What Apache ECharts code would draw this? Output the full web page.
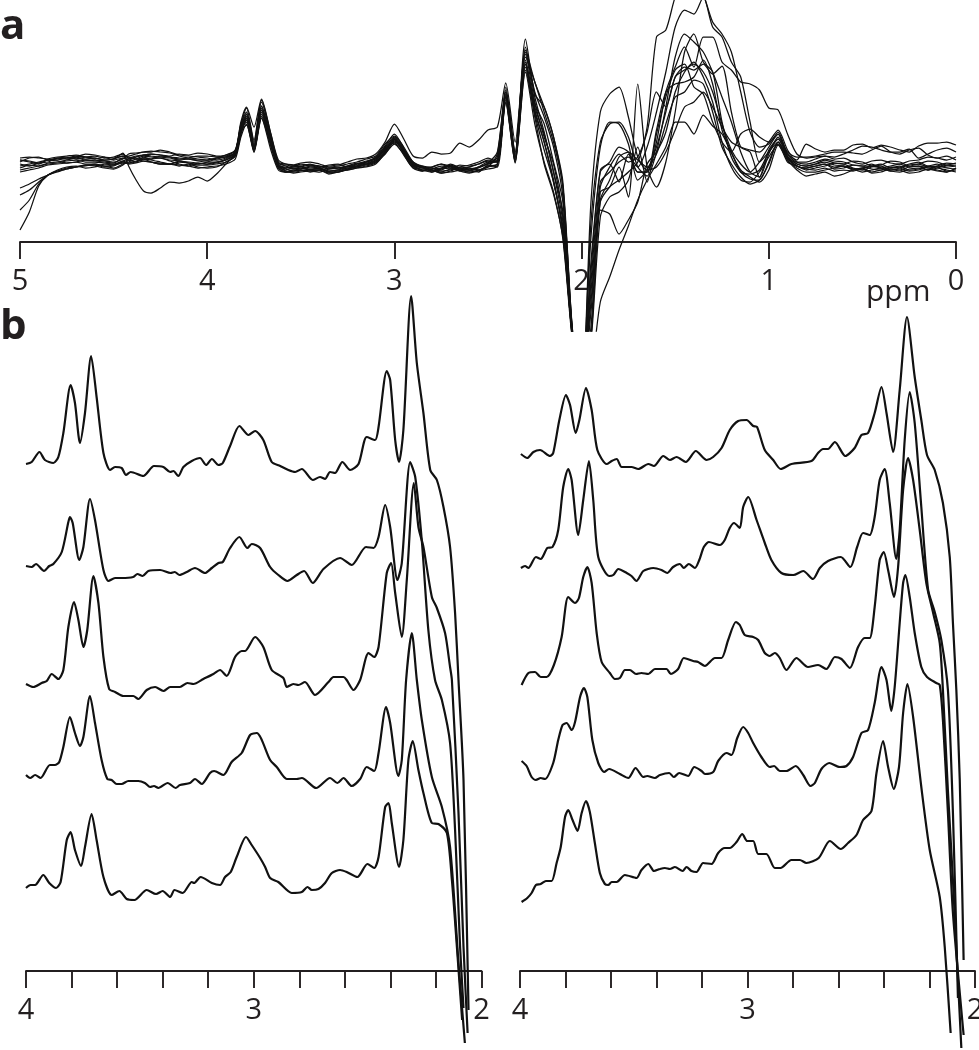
<!DOCTYPE html>
<html>
<head>
<meta charset="utf-8">
<style>html,body{margin:0;padding:0;background:#fff}#chart{width:979px;height:1050px}</style>
<script src="https://cdn.jsdelivr.net/npm/echarts@6/dist/echarts.min.js"></script>
</head>
<body>
<div id="chart"></div>
<script>
// panel a: all spectra share one ppm grid, values are signal height above the axis
const ppmA = [5,4.95,4.9,4.85,4.8,4.75,4.7,4.65,4.6,4.55,4.5,4.45,4.42,4.38,4.34,4.3,4.25,4.2,4.15,4.1,4.05,4,3.95,
  3.9,3.85,3.82,3.79,3.75,3.71,3.66,3.62,3.58,
  3.54,3.5,3.45,3.4,3.35,3.3,3.25,3.2,3.15,3.1,3.05,3,2.95,2.9,2.85,2.8,2.75,2.7,2.65,2.6,2.55,2.5,
  2.45,2.405,2.355,2.3,2.25, 2.2,2.15,2.1,2.05,2, 1.95,1.9,1.85,1.8,1.75, 1.7,1.65,1.6,1.55,1.5, 1.45,1.4,1.35,1.3,1.25, 1.2,1.15,1.1,1.05,1, 0.95,0.9,0.85,0.8,
  0.75,0.7,0.65,0.6,0.55,0.5,0.45,0.4,0.35,0.3,0.25,0.2,0.15,0.1,0.05,0];
const a0 = [12,30,56,67,71,74,75,77,77,75,76,80,78,79,81,80,79,78,80,79,77,77,78,
  80,86,108,128,98,136,100,76,72,
  74,73,75,74,71,72,75,76,78,80,90,104,92,80,75,74,72,77,74,72,75,78,
  82,148,82,175,132, 100,60,15,-95,-150, -130,-60,-35,-8,16, 42,62,78,95,120, 120,108,127,116,108, 89,72,65,60,72, 97,82,72,66,
  68,70,66,68,72,74,70,72,74,76,72,73,76,75,71,72];
const a1 = [32,42,58,67,72,75,76,74,75,78,77,81,79,80,83,82,80,78,77,76,79,78,79,
  82,87,112,122,95,130,96,74,70,
  71,72,70,72,74,75,73,78,80,84,92,101,90,76,72,70,73,74,71,73,75,80,
  80,145,85,180,138, 118,80,40,-88,-150, 40,130,148,155,125, 85,72,75,90,112, 135,140,150,135,115, 100,95,92,90,100, 112,92,80,78,
  80,83,81,80,77,76,78,74,76,78,75,76,72,74,77,76];
const a2 = [47,52,60,67,70,73,75,77,76,74,73,77,82,80,85,83,84,81,78,76,74,75,76,
  78,83,105,118,90,124,92,72,70,
  70,71,73,73,70,71,74,75,78,82,94,103,88,74,73,72,69,70,72,74,72,76,
  78,140,80,178,130, 100,62,10,-92,-150, -85,50,55,75,45, 158,75,55,80,130, 190,208,180,170,120, 85,70,63,62,80, 100,84,76,74,
  76,78,75,76,73,70,72,74,71,72,75,76,74,72,70,74];
const a3 = [54,58,63,67,71,73,75,76,78,76,74,78,80,83,86,85,84,82,81,80,79,78,80,
  82,88,115,126,92,132,102,76,73,
  71,72,71,70,73,74,76,79,78,81,88,100,92,78,71,75,78,76,73,72,74,79,
  90,152,88,190,150, 125,95,45,-90,-150, -60,40,55,62,70, 80,115,205,212,245, 262,265,248,220,208, 190,150,110,95,98, 110,88,80,80,
  83,86,85,88,92,96,95,92,90,90,93,84,88,92,94,90];
const a4 = [84,85,84,83,82,84,86,85,84,82,83,86,85,83,84,83,86,85,83,84,86,86,85,
  87,92,118,130,100,140,106,79,76,
  74,75,77,76,74,73,76,77,80,85,96,108,94,77,74,73,74,76,72,71,75,78,
  85,150,90,195,145, 110,70,30,-88,-150, -40,60,70,80,85, 75,95,130,170,215, 232,228,245,215,205, 180,165,120,80,90, 100,85,78,76,
  78,80,77,76,73,74,76,78,74,75,78,80,76,78,75,76];
const a5 = [82,80,78,83,85,86,87,85,83,85,84,86,86,88,90,90,92,90,87,86,85,84,82,
  84,90,117,134,102,142,108,82,78,
  77,79,80,78,75,76,78,80,83,86,98,106,95,80,76,75,78,74,77,76,78,82,
  82,155,85,203,148, 135,105,60,-85,-150, 20,100,118,120,105, 75,66,90,135,185, 208,200,190,170,145, 120,90,70,65,88, 105,90,85,85,
  86,88,90,90,89,88,92,96,90,88,92,94,87,84,86,82];
const a6 = [80,84,85,82,84,85,83,85,86,84,85,88,84,86,87,86,85,84,82,83,81,80,80,
  83,89,114,124,94,134,100,76,75,
  73,74,72,72,69,70,73,75,77,80,91,103,90,76,72,72,70,73,72,70,72,75,
  88,150,90,192,160, 135,105,55,-87,-150, -20,70,80,95,90, 70,70,100,150,175, 195,175,205,205,180, 172,160,158,152,134, 132,108,88,84,
  85,86,83,84,80,78,81,82,79,78,81,82,85,84,82,85];
const a7 = [76,78,80,82,81,79,80,82,81,80,79,84,84,83,81,80,78,78,81,79,78,80,83,
  85,90,120,135,115,143,108,80,78,
  77,76,78,75,76,77,80,83,84,88,100,118,103,86,84,90,88,89,99,95,102,112,
  115,159,100,185,160, 130,100,55,-86,-150, -50,55,75,88,80, 85,110,150,135,165, 175,172,178,168,176, 130,95,90,65,92, 103,88,82,98,
  93,90,92,92,97,98,94,97,95,92,90,96,99,99,100,97];
const a8 = [78,76,79,80,84,83,85,88,87,85,82,84,82,85,87,88,87,86,88,87,89,88,86,
  86,92,112,120,92,126,98,78,74,
  75,76,72,74,71,72,72,74,76,79,88,98,88,78,74,72,69,71,75,74,72,75,
  78,145,82,188,140, 105,78,25,-90,-150, 5,95,120,118,98, 62,72,95,130,165, 172,178,170,150,118, 92,78,70,80,95, 108,85,76,74,
  76,78,73,74,77,76,73,72,75,74,71,72,75,76,74,73];
const a9 = [74,77,76,79,80,82,84,82,82,81,80,83,88,89,90,91,90,89,86,84,83,82,84,
  85,88,110,117,92,124,96,74,70,
  72,73,76,75,77,78,75,76,80,83,93,99,87,75,76,70,73,78,74,72,70,77,
  75,142,80,172,125, 78,48,5,-93,-150, -70,32,28,8,22, 40,78,90,110,150, 170,180,165,140,100, 75,62,60,70,85, 98,80,76,72,
  74,76,79,78,74,72,75,76,72,74,77,78,75,74,72,70];
const a10 = [72,74,76,78,79,81,82,80,80,79,78,81,83,85,87,88,87,85,84,83,82,82,84,
  87,91,116,128,96,136,104,79,77,
  76,78,77,76,73,74,76,78,81,84,95,105,93,79,75,74,71,72,75,77,80,84,
  80,147,85,182,135, 108,70,20,-91,-150, -30,72,78,60,88, 70,70,112,150,158, 160,165,182,158,112, 90,70,68,72,90, 103,86,78,76,
  78,82,79,78,81,80,76,77,81,80,76,78,81,80,77,79];
const a11 = [70,72,74,77,78,79,80,78,78,76,77,79,79,81,83,80,78,78,76,78,75,74,75,
  80,86,108,122,90,128,100,75,71,
  69,70,71,72,68,70,72,74,75,78,89,102,90,74,71,73,76,75,71,69,71,73,
  76,139,79,170,118, 80,50,3,-97,-150, -100,25,45,50,62, 95,60,108,145,172, 178,155,148,120,100, 90,108,113,105,100, 108,84,76,73,
  72,74,71,72,71,73,69,70,73,72,69,70,73,71,70,74];
const a12 = [82,81,79,82,83,84,85,83,84,82,83,89,76,62,51,49,54,60,59,61,65,61,68,
  78,88,112,124,96,132,100,77,74,
  76,75,73,74,70,70,73,76,79,82,92,103,91,78,75,71,74,76,73,75,78,81,
  80,146,84,178,128, 92,60,10,-94,-150, -95,42,62,85,90, 82,75,88,118,145, 150,162,158,130,95, 78,65,58,62,78, 100,82,74,70,
  70,72,74,76,72,74,76,74,71,70,73,74,72,76,79,78];

// panel b, left column, [ppm, height]
const left1 = [[4,507],[3.975,509],[3.941,519],[3.917,511],[3.88,508],[3.858,514],[3.836,538],[3.804,586],[3.785,568],[3.763,528],[3.741,558],[3.714,615],[3.69,574],[3.66,518],[3.631,501],[3.609,504],[3.58,503],[3.561,496],[3.54,499],[3.485,495],[3.438,505],[3.397,504],[3.367,499],[3.353,500],[3.331,495],[3.309,504],[3.272,510],[3.236,513],[3.209,506],[3.184,512],[3.155,506],[3.136,508],[3.104,525],[3.063,545],[3.023,536],[2.994,540],[2.958,531],[2.921,509],[2.884,505],[2.848,501],[2.818,499],[2.789,502],[2.741,491],[2.709,494],[2.687,492],[2.665,499],[2.643,498],[2.611,509],[2.577,501],[2.54,507],[2.504,534],[2.467,531],[2.452,544],[2.416,600],[2.401,591],[2.379,531],[2.362,509],[2.343,541],[2.309,675],[2.284,608],[2.255,558],[2.225,501],[2.196,491],[2.167,464],[2.138,424],[2.116,358],[2.101,291],[2.079,191],[2.057,-39]];
const left2 = [[4,405],[3.975,404],[3.956,407],[3.921,400],[3.898,405],[3.88,407],[3.843,419],[3.814,449],[3.807,454],[3.795,448],[3.766,411],[3.748,424],[3.719,472],[3.697,451],[3.66,401],[3.638,390],[3.609,393],[3.58,393],[3.529,394],[3.511,397],[3.488,395],[3.463,400],[3.411,401],[3.365,398],[3.347,399],[3.326,396],[3.294,399],[3.258,403],[3.214,398],[3.184,403],[3.155,408],[3.136,409],[3.104,423],[3.063,434],[3.028,423],[3.009,427],[2.972,423],[2.928,404],[2.892,396],[2.852,390],[2.811,396],[2.779,400],[2.741,388],[2.694,402],[2.621,413],[2.57,406],[2.507,424],[2.474,423],[2.452,434],[2.423,466],[2.401,444],[2.369,391],[2.35,408],[2.313,509],[2.291,494],[2.262,430],[2.233,340],[2.204,291],[2.174,271],[2.138,228],[2.116,141],[2.094,24],[2.079,-37]];
const left3 = [[4,287],[3.968,284],[3.931,288],[3.909,290],[3.887,297],[3.858,292],[3.836,301],[3.814,344],[3.789,369],[3.77,351],[3.748,324],[3.731,341],[3.704,395],[3.682,368],[3.66,314],[3.635,282],[3.609,279],[3.572,275],[3.529,275],[3.507,272],[3.47,281],[3.433,284],[3.397,280],[3.367,284],[3.324,284],[3.291,288],[3.265,287],[3.221,292],[3.177,297],[3.148,301],[3.119,295],[3.082,314],[3.053,320],[3.038,320],[2.994,334],[2.958,324],[2.921,301],[2.87,293],[2.855,284],[2.826,287],[2.804,286],[2.775,289],[2.731,276],[2.672,289],[2.65,294],[2.606,294],[2.592,291],[2.562,281],[2.533,291],[2.496,318],[2.471,314],[2.452,324],[2.416,398],[2.397,408],[2.379,378],[2.35,334],[2.328,391],[2.297,488],[2.277,444],[2.255,424],[2.218,374],[2.196,363],[2.16,338],[2.138,304],[2.13,291],[2.101,158],[2.079,24],[2.061,-62]];
const left4 = [[4,196],[3.982,193],[3.96,196],[3.936,193],[3.895,206],[3.873,206],[3.854,209],[3.836,224],[3.807,254],[3.785,238],[3.763,225],[3.748,234],[3.719,275],[3.697,248],[3.668,211],[3.643,192],[3.624,191],[3.602,187],[3.58,187],[3.551,190],[3.507,190],[3.478,188],[3.455,184],[3.438,185],[3.419,183],[3.378,188],[3.343,183],[3.324,186],[3.28,188],[3.258,192],[3.228,187],[3.192,198],[3.174,200],[3.133,196],[3.097,209],[3.053,218],[3.016,236],[2.987,238],[2.928,211],[2.899,204],[2.855,192],[2.811,192],[2.789,193],[2.726,183],[2.665,193],[2.633,188],[2.606,193],[2.57,185],[2.533,192],[2.504,204],[2.471,200],[2.452,218],[2.419,264],[2.401,248],[2.365,195],[2.35,211],[2.331,291],[2.306,338],[2.284,291],[2.262,251],[2.218,194],[2.174,164],[2.138,124],[2.101,8],[2.073,-72]];
const left5 = [[4,83],[3.98,86],[3.96,86],[3.924,96],[3.898,88],[3.868,83],[3.848,89],[3.821,131],[3.804,139],[3.785,121],[3.758,105],[3.741,124],[3.712,157],[3.69,131],[3.66,94],[3.624,76],[3.59,80],[3.558,72],[3.524,71],[3.47,81],[3.429,77],[3.4,80],[3.367,74],[3.348,81],[3.312,78],[3.272,89],[3.262,88],[3.233,94],[3.184,88],[3.148,86],[3.126,94],[3.101,99],[3.075,114],[3.034,134],[3.009,126],[2.972,113],[2.95,104],[2.928,93],[2.892,89],[2.833,78],[2.789,79],[2.764,84],[2.745,81],[2.716,82],[2.687,88],[2.657,98],[2.621,101],[2.592,99],[2.545,94],[2.501,107],[2.471,103],[2.452,114],[2.423,164],[2.408,168],[2.394,148],[2.362,104],[2.343,131],[2.321,211],[2.302,230],[2.277,201],[2.255,178],[2.218,148],[2.189,147],[2.152,138],[2.13,91],[2.108,24],[2.085,-49]];

// panel b, right column
const right1 = [[3.996,517],[3.968,513],[3.941,519],[3.912,521],[3.868,515],[3.854,518],[3.827,551],[3.798,576],[3.78,566],[3.755,538],[3.739,551],[3.71,583],[3.685,561],[3.66,521],[3.619,507],[3.597,510],[3.575,512],[3.553,504],[3.51,504],[3.48,502],[3.436,507],[3.411,505],[3.37,515],[3.341,511],[3.312,514],[3.271,509],[3.227,520],[3.18,511],[3.151,514],[3.114,523],[3.078,541],[3.041,550],[3.004,551],[2.975,545],[2.958,544],[2.924,521],[2.887,511],[2.854,502],[2.807,507],[2.719,510],[2.69,518],[2.668,522],[2.646,522],[2.616,529],[2.57,515],[2.529,523],[2.499,536],[2.47,538],[2.441,558],[2.411,584],[2.389,558],[2.36,519],[2.331,581],[2.299,654],[2.265,594],[2.236,551],[2.211,516],[2.177,501],[2.141,468],[2.111,414],[2.097,348],[2.082,281],[2.067,191],[2.05,11]];
const right2 = [[3.996,403],[3.978,405],[3.963,403],[3.93,414],[3.909,412],[3.88,423],[3.857,424],[3.832,441],[3.81,484],[3.788,502],[3.773,491],[3.744,436],[3.722,471],[3.697,510],[3.678,471],[3.656,414],[3.608,395],[3.59,396],[3.568,402],[3.531,398],[3.51,395],[3.488,390],[3.458,400],[3.414,403],[3.378,401],[3.353,398],[3.327,404],[3.297,407],[3.28,403],[3.258,407],[3.231,403],[3.212,411],[3.192,424],[3.17,429],[3.122,426],[3.1,431],[3.078,443],[3.059,448],[3.034,443],[3.019,464],[2.997,474],[2.96,451],[2.924,428],[2.895,411],[2.851,398],[2.799,396],[2.755,400],[2.712,392],[2.682,403],[2.646,410],[2.59,414],[2.548,404],[2.518,424],[2.492,438],[2.463,436],[2.441,454],[2.419,491],[2.397,502],[2.375,468],[2.346,412],[2.331,441],[2.309,531],[2.287,579],[2.265,548],[2.236,464],[2.206,381],[2.177,359],[2.148,331],[2.119,281],[2.097,158],[2.075,-27]];
const right3 = [[3.993,286],[3.963,298],[3.934,299],[3.909,294],[3.883,294],[3.851,306],[3.817,334],[3.788,374],[3.758,368],[3.741,373],[3.722,394],[3.704,404],[3.685,388],[3.663,338],[3.641,309],[3.605,298],[3.583,292],[3.561,293],[3.539,301],[3.517,301],[3.49,297],[3.466,298],[3.436,297],[3.407,302],[3.356,302],[3.337,297],[3.305,302],[3.28,313],[3.239,310],[3.217,309],[3.187,305],[3.143,313],[3.114,313],[3.085,331],[3.051,349],[3.034,346],[3.012,336],[2.975,334],[2.953,331],[2.924,318],[2.902,315],[2.88,318],[2.858,313],[2.829,301],[2.785,313],[2.734,304],[2.69,306],[2.653,302],[2.616,314],[2.587,312],[2.55,303],[2.514,324],[2.485,333],[2.463,333],[2.441,364],[2.419,411],[2.401,419],[2.382,401],[2.356,374],[2.338,404],[2.316,481],[2.294,513],[2.272,491],[2.243,441],[2.214,388],[2.184,358],[2.155,328],[2.141,281],[2.119,180],[2.097,91],[2.06,-77]];
const right4 = [[3.993,210],[3.971,205],[3.949,194],[3.93,191],[3.909,193],[3.89,192],[3.854,208],[3.832,231],[3.813,246],[3.795,248],[3.773,241],[3.758,249],[3.736,274],[3.719,283],[3.704,274],[3.682,231],[3.656,208],[3.63,199],[3.608,202],[3.561,197],[3.524,193],[3.492,203],[3.458,194],[3.441,195],[3.407,193],[3.385,196],[3.344,198],[3.324,194],[3.3,198],[3.261,195],[3.234,204],[3.202,200],[3.187,197],[3.151,199],[3.129,210],[3.092,218],[3.07,216],[3.045,233],[3.019,244],[2.997,238],[2.975,228],[2.939,214],[2.902,204],[2.883,205],[2.858,200],[2.829,200],[2.788,205],[2.755,196],[2.723,185],[2.704,188],[2.675,202],[2.641,208],[2.594,204],[2.565,205],[2.536,214],[2.499,238],[2.47,241],[2.441,268],[2.411,304],[2.389,291],[2.368,260],[2.353,284],[2.331,348],[2.316,388],[2.306,396],[2.287,374],[2.265,338],[2.236,304],[2.211,294],[2.17,288],[2.155,286],[2.141,251],[2.119,158],[2.097,58],[2.05,-64]];
const right5 = [[3.993,69],[3.968,73],[3.949,78],[3.93,86],[3.909,87],[3.886,90],[3.861,90],[3.839,108],[3.821,124],[3.802,154],[3.788,161],[3.769,151],[3.747,140],[3.729,158],[3.71,170],[3.693,159],[3.671,128],[3.649,98],[3.627,87],[3.612,86],[3.597,89],[3.575,89],[3.539,96],[3.488,93],[3.466,101],[3.436,107],[3.411,100],[3.385,102],[3.363,103],[3.341,102],[3.319,104],[3.285,100],[3.268,104],[3.246,100],[3.224,99],[3.195,108],[3.158,107],[3.129,118],[3.1,123],[3.078,123],[3.048,129],[3.023,137],[3.001,130],[2.975,130],[2.953,117],[2.917,117],[2.88,103],[2.855,103],[2.807,111],[2.77,111],[2.741,108],[2.687,113],[2.638,130],[2.59,122],[2.558,128],[2.521,136],[2.492,151],[2.455,160],[2.433,198],[2.404,230],[2.382,204],[2.357,182],[2.334,204],[2.316,258],[2.297,287],[2.272,254],[2.236,184],[2.199,121],[2.155,74],[2.133,24],[2.107,-62]];

const spectraA = [a0,a1,a2,a3,a4,a5,a6,a7,a8,a9,a10,a11,a12];
const spectraLeft = [left1,left2,left3,left4,left5];
const spectraRight = [right1,right2,right3,right4,right5];

const inkColor = '#231f20';
const labelFont = '"Open Sans"';

// the ruled ppm scales live in their own thin grids, the spectra run across them
function ruledAxis(gridIndex, max, min, interval) {
    return {
        type: 'value',
        gridIndex: gridIndex,
        inverse: true,
        min: min,
        max: max,
        interval: interval,
        splitLine: {show: false},
        axisLine: {lineStyle: {color: inkColor, width: 1.9}},
        axisTick: {length: 17, lineStyle: {color: inkColor, width: 1.9}},
        axisLabel: {
            margin: 25,
            fontFamily: labelFont,
            fontSize: 29,
            color: inkColor,
            showMinLabel: true,
            showMaxLabel: true,
            hideOverlap: false,
            formatter: function(v) {
                // panel b has a tick every 0.2 but only numbers the whole ppm
                return Math.abs(v - Math.round(v)) < 1e-6 ? String(Math.round(v)) : '';
            }
        }
    };
}

function hiddenAxis(gridIndex, max, min) {
    return {type: 'value', gridIndex: gridIndex, inverse: true, min: min, max: max, show: false};
}

function heightAxis(gridIndex, min, max) {
    return {type: 'value', gridIndex: gridIndex, min: min, max: max, show: false};
}

function lineSeries(idx, data, width) {
    return {
        type: 'line',
        xAxisIndex: idx,
        yAxisIndex: idx,
        data: data,
        symbol: 'none',
        smooth: 0.25,
        clip: true,
        silent: true,
        lineStyle: {color: '#111', width: width},
        animation: false
    };
}

const series = [];
spectraA.forEach(function(s) {
    series.push(lineSeries(0, s.map(function(v, i) { return [ppmA[i], v]; }), 1.25));
});
spectraLeft.forEach(function(s) { series.push(lineSeries(1, s, 2.2)); });
spectraRight.forEach(function(s) { series.push(lineSeries(2, s, 2.2)); });

const chart = echarts.init(document.getElementById('chart'), null, {renderer: 'canvas'});
chart.setOption({
    backgroundColor: '#fff',
    animation: false,
    grid: [
        {left: 20, top: 0, width: 936, height: 331, outerBoundsMode: 'none'},
        {left: 26, top: 280, width: 455.5, height: 770, outerBoundsMode: 'none'},
        {left: 520, top: 280, width: 455, height: 770, outerBoundsMode: 'none'},
        {left: 20, top: 232, width: 936, height: 10, outerBoundsMode: 'none'},
        {left: 26, top: 961, width: 455.5, height: 10, outerBoundsMode: 'none'},
        {left: 520, top: 961, width: 455, height: 10, outerBoundsMode: 'none'}
    ],
    xAxis: [
        hiddenAxis(0, 5, 0),
        hiddenAxis(1, 4, 2),
        hiddenAxis(2, 4, 2),
        ruledAxis(3, 5, 0, 1),
        ruledAxis(4, 4, 2, 0.2),
        ruledAxis(5, 4, 2, 0.2)
    ],
    yAxis: [
        heightAxis(0, -89, 242),
        heightAxis(1, -79, 691),
        heightAxis(2, -79, 691),
        heightAxis(3, 0, 1),
        heightAxis(4, 0, 1),
        heightAxis(5, 0, 1)
    ],
    series: series,
    graphic: [
        {type: 'text', left: 0, top: 6, style: {text: 'a', font: 'bold 42px "Open Sans"', fill: inkColor}},
        {type: 'text', left: 0, top: 306, style: {text: 'b', font: 'bold 42px "Open Sans"', fill: inkColor}},
        {type: 'text', left: 866, top: 277, style: {text: 'ppm', font: '30px "Open Sans"', fill: inkColor}}
    ]
});
</script>
</body>
</html>
